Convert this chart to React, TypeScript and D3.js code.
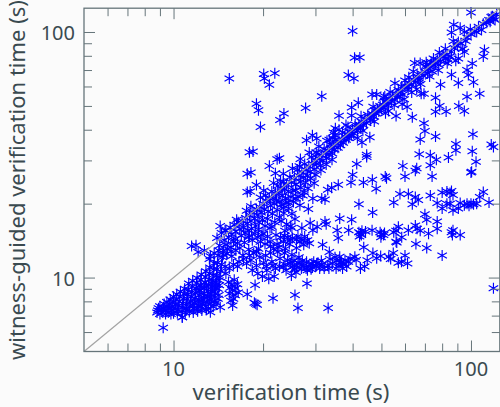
import { useRef, useEffect } from 'react';
import * as d3 from 'd3';

type Pt = [number, number];

const WIDTH = 500;
const HEIGHT = 407;
const AXIS_COLOR = '#66757a';
const TEXT_COLOR = '#3a4a50';
const MARK_COLOR = '#0000ff';

const DOMAIN = [5, 125];
const MAJOR_TICKS = [10, 100];
const MINOR_TICKS = [6, 7, 8, 9, 20, 30, 40, 50, 60, 70, 80, 90];

// seconds: [verification, witness-guided]
const lowerCluster: Pt[] = [
  [9.23, 6.25], [8.8, 7.2], [8.9, 7.5], [8.85, 7.35], [9, 7.1], [9.1, 7.4], [9, 7.65], [9.2, 7.2], [9.25, 7.55], [9.3, 7.8],
  [9.4, 7.1], [9.45, 7.35], [9.5, 7.65], [9.5, 7.95], [9.6, 7.2], [9.65, 7.5], [9.7, 7.8], [9.75, 8.15], [9.8, 7.1], [9.85, 7.35],
  [9.9, 7.65], [9.95, 7.95], [10, 8.35], [10, 7.15], [10.1, 7.45], [10.15, 7.75], [10.2, 8.1], [10.25, 8.55], [10.3, 7.15], [10.35, 7.4],
  [10.4, 7.7], [10.45, 8], [10.5, 8.35], [10.55, 8.75], [10.6, 7.25], [10.7, 6.9], [10.7, 7.55], [10.75, 7.85], [10.8, 8.2], [10.85, 8.6],
  [10.9, 9], [10.95, 7.2], [11, 7.5], [11.05, 7.85], [11.1, 8.2], [11.15, 8.55], [11.2, 8.95], [11.25, 9.45], [11.3, 7.25], [11.35, 7.6],
  [11.4, 7.95], [11.45, 8.35], [11.5, 8.7], [11.55, 9.15], [11.6, 9.7], [11.65, 7.2], [11.7, 7.5], [11.75, 7.9], [11.8, 8.25], [11.85, 8.65],
  [11.9, 9.05], [11.95, 9.5], [12, 9.95], [12.05, 7.3], [12.1, 7.7], [12.15, 8.1], [12.2, 8.5], [12.25, 8.9], [12.3, 9.35], [12.35, 9.8],
  [12.4, 10.3], [12.45, 7.35], [12.5, 7.8], [12.6, 8.2], [12.65, 8.6], [12.7, 9.05], [12.75, 9.55], [12.8, 10.05], [12.85, 10.6], [12.9, 7.4],
  [12.95, 7.9], [13, 8.35], [13.05, 8.8], [13.1, 9.3], [13.15, 9.8], [13.2, 10.4], [13.25, 11], [13.3, 7.22], [13.35, 7.85], [13.4, 8.3],
  [13.45, 8.75], [13.5, 9.2], [13.55, 9.7], [13.6, 10.25], [13.65, 10.85], [13.7, 11.45], [13.75, 8.05], [13.8, 8.6], [13.85, 9.1], [13.9, 9.6],
  [13.95, 10.2], [14, 10.8], [14.05, 11.5], [14.35, 7.57], [14.2, 8.5], [14.25, 9.3], [14.3, 10], [14.4, 10.6], [14.5, 11.3], [14.6, 12.1],
  [11.5, 13.45], [11.9, 13.55], [12.1, 12.7], [12.7, 12.9], [14.35, 16.2], [14.9, 15.6], [13.3, 12.2], [13.7, 12.6], [14.2, 12.9], [14.7, 12.4],
  [15.5, 9.1], [15.8, 8.9], [16.1, 8.47], [15.8, 7.7], [16.4, 9.4], [10.7, 6.89], [17.7, 8.55], [15, 10.4], [15.4, 10.9], [15.9, 11.3],
  [11.1, 7.4], [11.6, 7.7], [12, 7.45], [12.3, 7.6], [12.8, 7.65], [13.1, 7.5], [13.6, 7.6], [13.9, 7.9], [14.1, 8.2], [13.2, 8.1],
  [12.4, 8.05], [11.9, 8], [12.7, 8.45], [12.1, 8.75], [13.3, 8.6], [13.7, 8.95], [14.1, 9], [12.9, 9.2], [12.4, 9.15], [13.4, 9.5],
  [13.9, 9.35], [14.2, 9.75], [15.3, 9.6], [15.7, 9.35], [16, 9.8], [15.4, 8.6], [15.9, 8.2], [16.5, 8.7], [15.6, 8.05], [16.2, 9.05],
];

const outliers: Pt[] = [
  [15.4, 64.7], [17.7, 26.5], [17.7, 22.3], [18, 32.4], [18.2, 26.8], [40, 101], [40.6, 78.5], [42.3, 78.8], [38.7, 66.8], [40.4, 64.7],
  [20.1, 67.4], [20.2, 64.7], [21.9, 68], [21, 61], [31.5, 54.7], [19, 51], [19.3, 48], [23.5, 46.6], [22.8, 43.8], [27.8, 49],
  [19.6, 41], [18.5, 32.6], [22.7, 30.6], [22.3, 30.3], [21, 28.5], [22, 26.6], [19, 23.8], [18.1, 22.4], [35, 40.6], [38, 41.8],
  [36, 45.6], [39.7, 49.3], [39.7, 45.7], [41.8, 51.5], [46.5, 55.6], [48.2, 55.6], [29.3, 38], [28, 36.2], [30.3, 36.8], [33.4, 36.4],
  [36, 40], [34.5, 39], [37, 39], [39, 38], [41.5, 37], [43, 35.5], [119, 9.05], [33.1, 7.52], [26.2, 7.52], [25.6, 8.5],
  [28.1, 9.45], [21.6, 8.23], [18.9, 7.82], [18.7, 7.9], [19.1, 7.75], [18.8, 9.33], [19.9, 10.1], [100, 120],
];

const belowDiagonal: Pt[] = [
  [111, 84.5], [110, 79.5], [101, 74.5], [97, 70], [102, 62.5], [98, 66.8], [107, 56], [97, 54.5], [91, 50], [95, 47.7],
  [82.5, 47.5], [78.5, 50], [76, 47.3], [76, 54], [79, 61], [90.7, 62], [86, 67], [68, 56], [61, 49.5], [56, 45.5],
  [63.5, 45], [69.5, 42.5], [70, 39.5], [67.5, 36.5], [76, 37.5], [101.5, 38.3], [117, 34.8], [119, 34], [89, 35], [89, 33],
  [101, 32.7], [84, 30.8], [104, 29.6], [73, 31.5], [67, 31.8], [76.5, 30.2], [73, 28.7], [100.5, 27], [100, 26.8], [74, 25.8],
  [65.7, 27.9], [65, 27.2], [59, 28.5], [60, 25.8], [51.5, 25.8], [52, 25.4], [44.6, 31.6], [44.6, 31], [41.3, 29], [40, 26.2],
  [39.5, 24.4], [43.5, 24.4], [46.6, 25], [48, 23], [35.8, 23.9], [34, 23.2], [33, 22.8], [45.7, 37.3], [29.7, 24.2], [29.4, 21],
  [31.5, 21], [32.3, 20.8], [110, 22.3], [86, 22.5], [83, 22.4], [80, 22.2], [73, 21.6], [61.6, 21.9], [57.7, 21.9], [65, 21.3],
  [85, 22.1], [87, 21.7], [107, 21.3], [26.6, 19.7], [28.4, 19], [25, 18.2], [23.4, 19.2], [27.5, 22.2], [25.8, 21], [24.3, 20.2],
];

const upperBand: Pt[] = [
  [28.2, 14.2], [26.6, 14], [25.1, 14.5], [24.5, 13.7], [23.4, 14], [22.3, 13.7], [21.1, 14], [20.3, 13.7], [19.6, 14], [19.3, 13.1],
  [27.4, 13.6], [25.9, 13.2], [24.2, 14.6], [22.9, 14.6], [21.7, 13.1], [20.7, 14.7], [23.8, 13.1], [26.2, 14.7], [27.6, 14.7], [22.1, 14.9],
  [24, 16.5], [25.6, 17.3], [27, 15.9], [28.8, 16.7], [29.4, 15.6], [32.3, 16.9], [32.6, 16.5], [35.5, 15.6], [35.8, 14.5], [36.2, 17.4],
  [39.7, 17.2], [38.8, 15.6], [42.5, 15.1], [42, 15.3], [42.8, 14.9], [42.2, 14.7], [43, 15.5], [46.5, 15.6], [50, 15], [50.8, 14.9],
  [49.5, 15.3], [51.2, 15.2], [55, 15.3], [56, 15.5], [57, 16.1], [58.5, 14.6], [56, 14], [61.6, 15.6], [65, 16.3], [67.5, 15.5],
  [72, 15.1], [77, 15.8], [77, 16.9], [71, 17.2], [70, 18.1], [86, 15.3], [87, 15.6], [92, 14.9], [46.7, 18.4], [42, 19.9],
  [55, 20.2], [63.5, 19.9], [66.5, 20.7], [77, 20.1], [80, 19.1], [87, 18.8], [95, 19.7], [100, 20], [104.5, 20], [115, 20.2],
  [85, 20], [97, 20], [102, 19.9], [90.7, 19.1], [83, 20], [92, 20.1], [98.5, 19.6], [24.7, 16.2], [23, 17], [30.4, 16.1],
];

const lowerBand: Pt[] = [
  [42.5, 10.9], [37, 10.9], [37.2, 11.4], [36.2, 12.15], [37.7, 11.75], [39.2, 11.95], [40.7, 12.15], [44.8, 11.75], [46.8, 12.6], [43.6, 13.3],
  [49.7, 12.25], [52.9, 12.15], [54.8, 12.6], [57, 11.5], [60, 12.3], [61.2, 11.4], [65.3, 13.7], [71, 13.2], [80, 12.3], [56.3, 13.9],
  [31.7, 13.6], [33.4, 12.7], [31, 10.9], [29.2, 11.4], [28, 11.6], [26.6, 11.4], [25.8, 10.5], [25.1, 11.05], [24.7, 11.4], [23.4, 11.05],
  [22.8, 11.95], [22, 10.9], [21.4, 11.6], [20.6, 10.7], [20.1, 11.5], [19.5, 12.1], [19, 11.2], [18.6, 12.6], [18.2, 11.8], [17.9, 13],
  [24.2, 11.8], [25.4, 11.7], [26, 11], [26.9, 10.9], [27.4, 11.2], [27.9, 10.9], [28.5, 11.1], [29, 10.8], [29.6, 11.6], [30.1, 11.1],
  [30.6, 11.5], [31.6, 11.3], [32.1, 10.9], [33, 11.2], [33.6, 11.9], [34.2, 11.4], [34.9, 12.1], [35.4, 11.7], [36, 11.2], [36.7, 11.6],
  [38.2, 11.1], [23.9, 10.7], [24.9, 10.2], [25.5, 10.8], [22.4, 12.7], [23.6, 12.6], [25, 12.4], [21.2, 12.6], [20.4, 12.3], [19.2, 10.4],
  [18.4, 10.7], [17.6, 11.4], [17.1, 12.3], [16.6, 11.6], [16.2, 12.9], [15.7, 12.2], [15.2, 13.1], [21.8, 10.1], [20.9, 9.9], [26.4, 12.1],
];

const diagonal: Pt[] = [
  [14, 14.5], [14.3, 13.5], [14.5, 15.2], [14.8, 14.2], [15, 13.6], [15, 15.5], [15.3, 14.6], [15.5, 16], [15.7, 15], [15.9, 14],
  [16, 16.4], [16.2, 15.4], [16.4, 13.8], [16.5, 16.8], [16.7, 15.8], [16.9, 14.8], [17, 17], [17.2, 16], [17.4, 15.2], [17.5, 17.5],
  [17.7, 16.6], [17.9, 14.6], [18, 18], [18.2, 17], [18.3, 15.8], [18.5, 18.4], [18.7, 17.4], [18.9, 16.2], [19, 19], [19.2, 18],
  [19.4, 16.8], [19.5, 19.4], [19.7, 18.4], [19.9, 17.2], [20, 20], [20.2, 19], [20.4, 21.6], [20.6, 20.4], [20.8, 18.6], [21, 21],
  [21.2, 19.6], [21.4, 22.4], [21.6, 21], [21.8, 20], [22, 22], [22.2, 20.6], [22.4, 23.6], [22.6, 22], [22.8, 20.4], [23, 23],
  [23.2, 21.6], [23.4, 24.6], [23.6, 23], [23.8, 21], [24, 24], [24.3, 22.4], [24.6, 25.6], [24.9, 24.4], [25.2, 22.6], [25.5, 25.5],
  [25.8, 24], [26.1, 27.5], [26.4, 26], [26.7, 24.5], [27, 27], [27.3, 25.6], [27.6, 29], [27.9, 27.4], [28.2, 26], [28.5, 28.5],
  [28.8, 27], [29.1, 31], [29.4, 29], [29.7, 27.6], [30, 30], [30.3, 29], [30.6, 31.8], [30.9, 30.4], [31.2, 28.6], [31.5, 31.5],
  [31.8, 30], [32.1, 33.4], [32.4, 32.2], [32.7, 30.6], [33, 33], [33.3, 31.8], [33.6, 34.8], [33.9, 33.6], [34.2, 32], [34.5, 34.5],
  [34.8, 33.2], [35.1, 36.4], [35.4, 35.2], [35.7, 33.8], [36, 36], [36.4, 34.6], [36.8, 36.6], [37.2, 35.4], [37.6, 37.6], [38, 36.4],
  [38.4, 38.2], [38.8, 37], [39.2, 39.2], [39.6, 38], [40, 40], [40.4, 38.6], [40.8, 42], [41.2, 40.8], [41.6, 39.6], [42, 42],
  [42.5, 40.6], [43, 43], [43.5, 41.8], [44, 44], [44.5, 42.6], [45, 46], [45.5, 45], [46, 43.6], [46.5, 46.5], [47, 45.4],
  [47.5, 48], [48, 46.6], [48.5, 48.5], [49, 47.4], [49.5, 50], [50, 48.6], [50.8, 54], [50.5, 50.5], [51, 49.4], [51.5, 52],
  [52, 52], [52.5, 50.4], [53, 53.6], [53.5, 57], [54, 52.4], [54.5, 55], [55.5, 61.8], [55.5, 52.8], [56, 56], [56.5, 54.4],
  [57, 58], [57.7, 54.5], [58, 57], [58.5, 60], [59, 55.6], [60, 63.5], [60, 60], [61, 60], [61.5, 58.4], [62, 62],
  [63, 61], [64, 69], [64, 64], [64.7, 74.7], [65, 62.4], [65.7, 58.5], [66, 66], [66.5, 65], [67.5, 74.7], [67, 63.6],
  [68, 68], [69, 66.4], [69.5, 56], [70, 69], [70.5, 72], [71, 73.5], [71.5, 68], [72, 71], [73, 72], [73.5, 75.5],
  [74, 69], [74.8, 78], [75, 73], [76, 75], [77, 77], [78, 73.5], [79, 76], [80, 80], [81, 79.5], [82, 78],
  [82, 85.5], [83, 81], [84, 77], [85, 79.5], [86, 83], [86, 99.5], [87.5, 107], [88, 86], [90, 88], [90.7, 91],
  [90.7, 78], [92, 104], [92.5, 90], [95, 83], [95, 100], [96, 92], [97, 95], [99.5, 102.5], [100, 98], [103, 101],
  [104.5, 100], [106, 105], [108.5, 102], [110, 108], [113, 109], [115, 112], [116, 110], [117, 115], [118, 116], [120.5, 112],
  [122, 118], [119, 114],
];

// second pass over the crowded parts of the cloud
const crowded: Pt[] = [
  [14.7, 12.9], [15.1, 12.5], [15.6, 13.3], [16.1, 14.4], [16.7, 13.2], [17.3, 13.9], [17.8, 15.6], [18.4, 14.2], [18.8, 15.1], [19.3, 15.7],
  [19.8, 14.9], [20.3, 16.2], [20.7, 17.3], [21.1, 15.9], [21.5, 18.2], [21.9, 16.8], [22.3, 18.9], [22.7, 17.6], [23.1, 19.8], [23.5, 18.3],
  [23.9, 20.1], [24.4, 19.1], [24.8, 21.3], [25.3, 20.3], [25.7, 22.7], [26.2, 21.4], [26.8, 23.2], [27.2, 21.6], [27.8, 24.4], [28.3, 23.1],
  [28.9, 25.3], [30.1, 26.2], [31.3, 27.4], [32.6, 28.9], [34.1, 30.2],
  [18.2, 19.5], [20.1, 22.6], [21.7, 24.3], [23.4, 26.5], [25.1, 27.8], [26.7, 30.4], [28.6, 32.3], [30.8, 34.2], [32.8, 36.1], [34.8, 38.1],
  [16.3, 17.2], [17.6, 18.7], [19.6, 21.2], [22.9, 24.7], [26.5, 28.4], [30.2, 32.4], [34.3, 36.9], [38.6, 41], [42.7, 45.4], [46.9, 49.6],
  [51.3, 54.7], [61.8, 65.4], [70.7, 75.3], [78.3, 82.6], [87.2, 91.6],
  [43.3, 39.6], [47.3, 43.2], [51.6, 46.7], [55.2, 50.3], [59.6, 53.2], [63.2, 56.7], [67.7, 61.4], [72.6, 65.9], [77.6, 69.8], [83.2, 74.6],
  [88.9, 76.4], [93.8, 85.3], [52.8, 47.7], [58.7, 50.8],
  [13.2, 11.9], [14.1, 12.3], [14.9, 11.1], [15.6, 12.8], [16.4, 11.1], [17.2, 11.9], [18, 12.3], [19, 12.7], [20.5, 11.1], [21.6, 11.2],
  [22.7, 11.1], [23.7, 11.3], [25, 11.6], [26.2, 11.5], [27.1, 11.7], [28.2, 10.7], [29.3, 11], [30.3, 11.4], [31.4, 11.7], [33.3, 10.9],
  [35.2, 10.9], [36.4, 11.5], [38.7, 11.6], [41.1, 11.8], [21.2, 13.4], [22.6, 13.3], [23.6, 14.8], [24.7, 14.2], [25.9, 14.3], [27, 14.2],
  [28.6, 13.8], [20, 15.1], [19.2, 14.6], [18, 14.8], [21.4, 16.1], [23.7, 15.5], [25, 15.9],
  [44.2, 15.4], [49.8, 14.6], [65.9, 15.8], [86.6, 14.9], [43.9, 11.1], [48.2, 12], [53.7, 11.9], [58.4, 11.6],
];

const groups = [lowerCluster, outliers, belowDiagonal, upperBand, lowerBand, diagonal, crowded];

function App() {
  const svgRef = useRef<SVGSVGElement>(null);

  useEffect(() => {
    const svg = d3.select(svgRef.current);
    svg.selectAll('*').remove();

    const x = d3.scaleLog().domain(DOMAIN).range([84, 499.8]);
    const y = d3.scaleLog().domain(DOMAIN).range([351.5, 8.2]);

    svg.append('rect').attr('width', WIDTH).attr('height', HEIGHT).attr('fill', '#fbfbfb');

    // Marks
    const star = d3.symbol(d3.symbolAsterisk, 85);
    svg.append('g')
      .selectAll('path')
      .data(groups.flat())
      .join('path')
      .attr('transform', d => `translate(${x(d[0])},${y(d[1])})`)
      .attr('d', star)
      .attr('fill', 'none')
      .attr('stroke', MARK_COLOR)
      .attr('stroke-width', 1.15);

    // x = y
    svg.append('line')
      .attr('x1', x(DOMAIN[0])).attr('y1', y(DOMAIN[0]))
      .attr('x2', x(DOMAIN[1])).attr('y2', y(DOMAIN[1]))
      .attr('stroke', '#a3a3a3')
      .attr('stroke-width', 1.2);

    // Ticks on all four sides, inward
    const tickStyle = (g: any) => {
      g.select('.domain').remove();
      g.selectAll('text').remove();
      g.selectAll('.tick line').attr('stroke', AXIS_COLOR).attr('stroke-width', 1);
    };
    const sides = [
      { make: (s: any) => d3.axisBottom(s), scale: x, pos: `translate(0,351.5)`, sign: -1 },
      { make: (s: any) => d3.axisTop(s), scale: x, pos: `translate(0,8.2)`, sign: -1 },
      { make: (s: any) => d3.axisLeft(s), scale: y, pos: `translate(84,0)`, sign: -1 },
      { make: (s: any) => d3.axisRight(s), scale: y, pos: `translate(499.8,0)`, sign: -1 },
    ];
    sides.forEach(side => {
      svg.append('g').attr('transform', side.pos)
        .call(side.make(side.scale).tickValues(MAJOR_TICKS).tickSize(side.sign * 11))
        .call(tickStyle);
      svg.append('g').attr('transform', side.pos)
        .call(side.make(side.scale).tickValues(MINOR_TICKS).tickSize(side.sign * 8))
        .call(tickStyle);
    });

    // Frame
    svg.append('rect')
      .attr('x', 84).attr('y', 8.2)
      .attr('width', 415.8).attr('height', 343.3)
      .attr('fill', 'none')
      .attr('stroke', AXIS_COLOR)
      .attr('stroke-width', 1.3);

    // Tick labels
    const label = svg.append('g')
      .attr('fill', TEXT_COLOR)
      .attr('font-family', '"Noto Sans", sans-serif');

    label.selectAll('.xl')
      .data(MAJOR_TICKS)
      .join('text')
      .attr('x', d => x(d))
      .attr('y', 376)
      .attr('text-anchor', 'middle')
      .attr('font-size', 20)
      .text(d => d);

    label.selectAll('.yl')
      .data(MAJOR_TICKS)
      .join('text')
      .attr('x', 75)
      .attr('y', d => y(d) + 8.5)
      .attr('text-anchor', 'end')
      .attr('font-size', 20)
      .text(d => d);

    label.append('text')
      .attr('x', 291)
      .attr('y', 400)
      .attr('text-anchor', 'middle')
      .attr('font-size', 22)
      .text('verification time (s)');

    label.append('text')
      .attr('transform', 'translate(25,180) rotate(-90)')
      .attr('text-anchor', 'middle')
      .attr('font-size', 22)
      .text('witness-guided verification time (s)');
  }, []);

  return (
    <svg
      ref={svgRef}
      width={WIDTH}
      height={HEIGHT}
      style={{ position: 'absolute', left: 0, top: 0 }}
    />
  );
}

export default App;
